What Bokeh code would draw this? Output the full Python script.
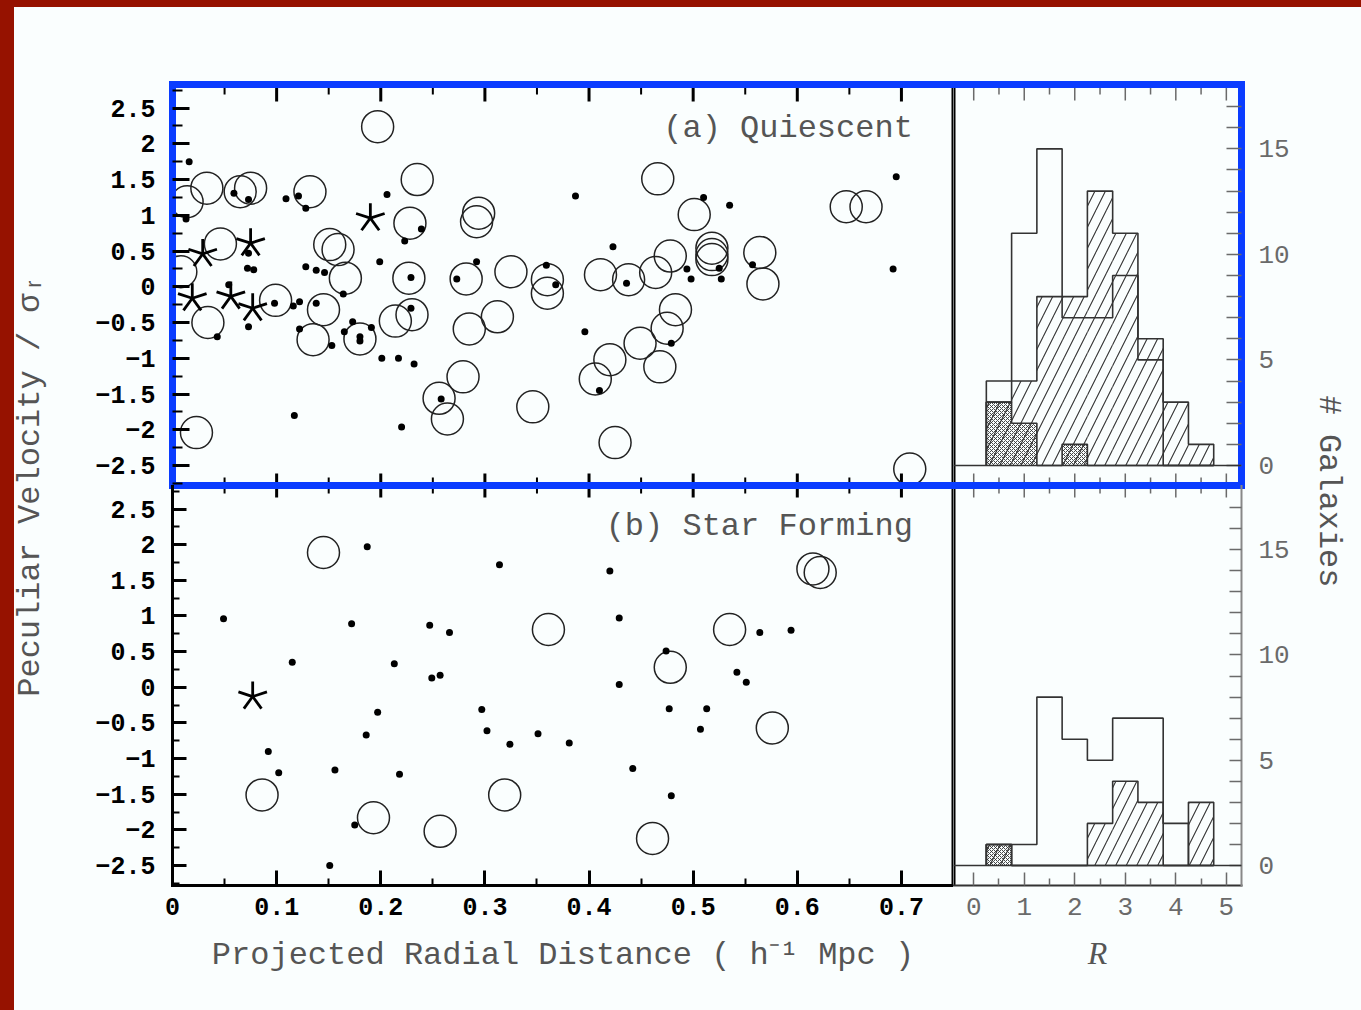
import math
from bokeh.plotting import figure
from bokeh.layouts import row, column
from bokeh.models import Range1d, FixedTicker, LinearAxis, Span, GlobalInlineStyleSheet
from bokeh.core.properties import value
from bokeh.embed import file_html
from bokeh.resources import INLINE

# ---------------- (a) Quiescent ----------------
qa_circle_x = [0.197, 0.033, 0.014, 0.065, 0.075, 0.132, 0.235, 0.228, 0.294, 0.292,
               0.046, 0.151, 0.159, 0.008, 0.166, 0.227, 0.282, 0.325, 0.360, 0.360,
               0.034, 0.099, 0.145, 0.135, 0.180, 0.214, 0.230, 0.285, 0.312, 0.279,
               0.256, 0.264, 0.346, 0.023, 0.466, 0.501, 0.647, 0.666, 0.411, 0.438,
               0.464, 0.478, 0.518, 0.518, 0.518, 0.564, 0.567, 0.483, 0.475, 0.449,
               0.420, 0.468, 0.406, 0.425, 0.708]
qa_circle_y = [2.24, 1.38, 1.19, 1.33, 1.38, 1.33, 1.50, 0.89, 1.03, 0.91,
               0.60, 0.59, 0.52, 0.21, 0.12, 0.12, 0.11, 0.21, 0.10, -0.09,
               -0.50, -0.19, -0.32, -0.74, -0.73, -0.48, -0.39, -0.59, -0.42, -1.26,
               -1.56, -1.85, -1.68, -2.04, 1.51, 1.01, 1.12, 1.12, 0.17, 0.10,
               0.20, 0.43, 0.54, 0.45, 0.38, 0.48, 0.04, -0.32, -0.58, -0.79,
               -1.02, -1.12, -1.29, -2.18, -2.55]
qa_dot_x = [0.016, 0.013, 0.059, 0.073, 0.109, 0.121, 0.128, 0.206, 0.239, 0.223,
            0.073, 0.072, 0.078, 0.128, 0.138, 0.146, 0.199, 0.229, 0.273, 0.292,
            0.359, 0.054, 0.073, 0.043, 0.098, 0.122, 0.116, 0.138, 0.122, 0.153,
            0.173, 0.191, 0.165, 0.180, 0.180, 0.229, 0.164, 0.201, 0.217, 0.232,
            0.258, 0.117, 0.220, 0.368, 0.387, 0.510, 0.535, 0.695, 0.692, 0.423,
            0.436, 0.494, 0.498, 0.527, 0.525, 0.557, 0.479, 0.410, 0.396]
qa_dot_y = [1.75, 0.95, 1.31, 1.22, 1.23, 1.27, 1.10, 1.29, 0.81, 0.64,
            0.47, 0.26, 0.24, 0.28, 0.23, 0.20, 0.35, 0.13, 0.11, 0.35,
            0.30, 0.03, -0.56, -0.70, -0.23, -0.21, -0.27, -0.23, -0.59, -0.82,
            -0.49, -0.57, -0.63, -0.70, -0.76, -0.30, -0.10, -1.00, -1.00, -1.08,
            -1.57, -1.80, -1.96, 0.03, 1.27, 1.25, 1.14, 1.54, 0.25, 0.56,
            0.05, 0.25, 0.11, 0.11, 0.26, 0.31, -0.79, -1.45, -0.63]
qa_star_x = [0.019, 0.056, 0.077, 0.029, 0.075, 0.190]
qa_star_y = [-0.16, -0.135, -0.30, 0.46, 0.61, 0.96]

# ---------------- (b) Star Forming ----------------
sf_circle_x = [0.145, 0.361, 0.086, 0.193, 0.257, 0.319, 0.615, 0.622, 0.535, 0.478, 0.576, 0.461]
sf_circle_y = [1.89, 0.81, -1.51, -1.83, -2.02, -1.51, 1.66, 1.61, 0.81, 0.28, -0.57, -2.12]
sf_dot_x = [0.187, 0.314, 0.049, 0.172, 0.247, 0.266, 0.115, 0.213, 0.249, 0.257,
            0.092, 0.102, 0.197, 0.186, 0.156, 0.218, 0.175, 0.151, 0.297, 0.302,
            0.324, 0.351, 0.420, 0.429, 0.564, 0.594, 0.474, 0.542, 0.551, 0.429,
            0.477, 0.513, 0.507, 0.381, 0.442, 0.479]
sf_dot_y = [1.97, 1.72, 0.96, 0.89, 0.87, 0.77, 0.35, 0.33, 0.13, 0.17,
            -0.90, -1.20, -0.35, -0.67, -1.16, -1.22, -1.93, -2.50, -0.31, -0.61,
            -0.80, -0.65, 1.63, 0.97, 0.77, 0.80, 0.51, 0.21, 0.07, 0.04,
            -0.30, -0.30, -0.59, -0.78, -1.14, -1.52]
sf_star_x = [0.077]
sf_star_y = [-0.13]

# ---------------- histograms of R ----------------
r_bin_edges = [0.25, 0.75, 1.25, 1.75, 2.25, 2.75, 3.25, 3.75, 4.25, 4.75]
qa_hist_open = [4, 11, 15, 7, 7, 9, 5, 0, 0]
qa_hist_hatched = [3, 4, 8, 8, 13, 11, 6, 3, 1]
qa_hist_cross = [3, 2, 0, 1, 0, 0, 0, 0, 0]
sf_hist_open = [1, 1, 8, 6, 5, 7, 7, 2, 0]
sf_hist_hatched = [1, 0, 0, 0, 2, 4, 3, 0, 3]
sf_hist_cross = [1, 0, 0, 0, 0, 0, 0, 0, 0]

# ---------------- ticks ----------------
dist_ticks = [0, 0.1, 0.2, 0.3, 0.4, 0.5, 0.6, 0.7]
dist_labels = ["0", "0.1", "0.2", "0.3", "0.4", "0.5", "0.6", "0.7"]
dist_minor = [0.05, 0.15, 0.25, 0.35, 0.45, 0.55, 0.65]
vel_ticks = [-2.5, -2, -1.5, -1, -0.5, 0, 0.5, 1, 1.5, 2, 2.5]
vel_labels = ["\u22122.5", "\u22122", "\u22121.5", "\u22121", "\u22120.5", "0",
              "0.5", "1", "1.5", "2", "2.5"]
vel_minor = [-2.75, -2.25, -1.75, -1.25, -0.75, -0.25, 0.25, 0.75, 1.25, 1.75, 2.25, 2.75]
r_ticks = [0, 1, 2, 3, 4, 5]
r_labels = ["0", "1", "2", "3", "4", "5"]
r_minor = [0.5, 1.5, 2.5, 3.5, 4.5]
n_ticks = [0, 5, 10, 15]
n_labels = ["0", "5", "10", "15"]
n_minor = [1, 2, 3, 4, 6, 7, 8, 9, 11, 12, 13, 14, 16, 17]

BG = "#fafefe"
BLUE = "#0a3cff"
INK = "#000000"
GREY = "#555555"
HGREY = "#6a6a6a"
MONO = "Liberation Mono"


def base_fig(w, h, xr, yr, left, right, top, bottom):
    p = figure(width=w, height=h, x_range=xr, y_range=yr, output_backend="svg",
               toolbar_location=None, x_axis_location=None, y_axis_location=None,
               min_border_left=left, min_border_right=right,
               min_border_top=top, min_border_bottom=bottom,
               background_fill_color=BG, border_fill_color=BG, outline_line_color=None)
    p.xgrid.visible = False
    p.ygrid.visible = False
    return p


def line_axis(p, side, color, width):
    """Axis that only draws its line (no ticks, no labels)."""
    ax = LinearAxis(ticker=FixedTicker(ticks=[], minor_ticks=[]))
    ax.axis_line_color = color
    ax.axis_line_width = width
    ax.axis_line_cap = "square"
    ax.major_tick_line_color = None
    ax.minor_tick_line_color = None
    ax.major_label_standoff = 0
    p.add_layout(ax, side)
    return ax


def edge_ticks(p, side, pos, length, width, color):
    """Inward ticks along the top or bottom edge of a frame."""
    n = len(pos)
    if side == "above":
        ys, ang = [p.y_range.end] * n, -math.pi / 2
    else:
        ys, ang = [p.y_range.start] * n, math.pi / 2
    p.ray(x=pos, y=ys, length=length, length_units="screen", angle=ang,
          line_color=color, line_width=width)


def label_axis(p, side, ticks, minor, labels, line_color, line_width, tick_color, tick_w,
               minor_w, maj_in, min_in, label_size, label_color, label_style, standoff,
               axis_label=None, axis_label_font=MONO, axis_label_style="normal",
               axis_label_standoff=0):
    ax = LinearAxis(ticker=FixedTicker(ticks=ticks, minor_ticks=minor))
    ax.axis_line_color = line_color
    ax.axis_line_width = line_width
    ax.axis_line_cap = "square"
    ax.major_tick_in = maj_in
    ax.major_tick_out = 0
    ax.minor_tick_in = min_in
    ax.minor_tick_out = 0
    ax.major_tick_line_color = tick_color
    ax.minor_tick_line_color = tick_color
    ax.major_tick_line_width = tick_w
    ax.minor_tick_line_width = minor_w
    ax.major_label_overrides = dict(zip(ticks, labels))
    ax.major_label_text_font = MONO
    ax.major_label_text_font_size = label_size
    ax.major_label_text_color = label_color
    ax.major_label_text_font_style = label_style
    ax.major_label_standoff = standoff
    if axis_label is not None:
        ax.axis_label = axis_label
        ax.axis_label_text_font = axis_label_font
        ax.axis_label_text_font_size = "32px"
        ax.axis_label_text_color = GREY
        ax.axis_label_text_font_style = axis_label_style
        ax.axis_label_standoff = axis_label_standoff
    p.add_layout(ax, side)
    return ax


def draw_scatter(p, cx, cy, dx, dy, sx, sy):
    p.scatter(cx, cy, marker="circle", size=32, fill_color=None,
              line_color="#222222", line_width=1.5)
    p.scatter(dx, dy, marker="circle", size=7, fill_color=INK, line_color=None)
    for ang in (90, 162, 234, 306, 18):
        p.ray(x=sx, y=sy, length=15, length_units="screen", angle=math.radians(ang),
              line_color=INK, line_width=2.8)


def draw_hist(p, open_c, hatch_c, cross_c):
    left = r_bin_edges[:-1]
    right = r_bin_edges[1:]
    p.quad(left=left, right=right, bottom=0, top=hatch_c, fill_color=None, line_color=None,
           hatch_pattern="/", hatch_scale=21, hatch_weight=1.1, hatch_color="#333333")
    p.quad(left=left, right=right, bottom=0, top=cross_c, fill_color=None, line_color=None,
           hatch_pattern="x", hatch_scale=4, hatch_weight=0.9, hatch_color="#333333")
    xs = [r_bin_edges[0]] + r_bin_edges
    for counts in (open_c, hatch_c, cross_c):
        p.step(x=xs, y=[0] + counts + [0], mode="after", line_color="#333333", line_width=1.6)
    p.add_layout(Span(location=0, dimension="width", line_color="#333333", line_width=1.6))


def separator(p, loc):
    s = Span(location=loc, dimension="height", line_color=INK, line_width=4)
    s.level = "underlay"
    p.add_layout(s)


SCX = (0, 0.75)
SCY = (-2.78, 2.83)
HX = (-0.4, 5.3)
HY = (-0.95, 18.05)

# ---- top scatter (a) ----
fa = base_fig(893, 485, Range1d(*SCX), Range1d(*SCY), 112, 0, 84, 0)
line_axis(fa, "above", BLUE, 7)
line_axis(fa, "below", BLUE, 7)
edge_ticks(fa, "above", dist_ticks, 17, 3, INK)
edge_ticks(fa, "above", dist_minor, 10, 2, INK)
edge_ticks(fa, "below", dist_ticks, 12, 3, INK)
edge_ticks(fa, "below", dist_minor, 8, 2, INK)
label_axis(fa, "left", vel_ticks, vel_minor, vel_labels, BLUE, 7, INK, 3, 2, 17, 10,
           "25px", INK, "bold", 17)
separator(fa, SCX[1])
draw_scatter(fa, qa_circle_x, qa_circle_y, qa_dot_x, qa_dot_y, qa_star_x, qa_star_y)
fa.text(x=[0.711], y=[2.21], text=["(a) Quiescent"], text_align="right",
        text_baseline="alphabetic", text_font=value(MONO), text_font_size="32px",
        text_color=GREY)

# ---- top histogram ----
ha = base_fig(347, 485, Range1d(*HX), Range1d(*HY), 0, 59, 84, 0)
line_axis(ha, "above", BLUE, 7)
line_axis(ha, "below", BLUE, 7)
edge_ticks(ha, "above", r_ticks, 16, 1.5, HGREY)
edge_ticks(ha, "above", r_minor, 10, 1.5, HGREY)
edge_ticks(ha, "below", r_ticks, 12, 1.5, HGREY)
edge_ticks(ha, "below", r_minor, 8, 1.5, HGREY)
label_axis(ha, "right", n_ticks, n_minor, n_labels, BLUE, 7, HGREY, 1.5, 1.5, 15, 15,
           "26px", HGREY, "normal", 17)
separator(ha, HX[0])
draw_hist(ha, qa_hist_open, qa_hist_hatched, qa_hist_cross)

# ---- bottom scatter (b) ----
fb = base_fig(893, 515, Range1d(*SCX), Range1d(*SCY), 112, 0, 0, 115)
line_axis(fb, "above", BLUE, 7)
edge_ticks(fb, "above", dist_ticks, 12, 3, INK)
edge_ticks(fb, "above", dist_minor, 8, 2, INK)
label_axis(fb, "below", dist_ticks, dist_minor, dist_labels, INK, 3, INK, 3, 2, 15, 7,
           "25px", INK, "bold", 12,
           axis_label="Projected Radial Distance ( h\u207b\u00b9 Mpc )", axis_label_standoff=19)
label_axis(fb, "left", vel_ticks, vel_minor, vel_labels, INK, 3, INK, 3, 2, 14, 7,
           "25px", INK, "bold", 17)
separator(fb, SCX[1])
draw_scatter(fb, sf_circle_x, sf_circle_y, sf_dot_x, sf_dot_y, sf_star_x, sf_star_y)
fb.text(x=[0.711], y=[2.25], text=["(b) Star Forming"], text_align="right",
        text_baseline="alphabetic", text_font=value(MONO), text_font_size="32px",
        text_color=GREY)

# ---- bottom histogram ----
hb = base_fig(347, 515, Range1d(*HX), Range1d(*HY), 0, 59, 0, 115)
line_axis(hb, "above", BLUE, 7)
edge_ticks(hb, "above", r_ticks, 12, 1.5, HGREY)
edge_ticks(hb, "above", r_minor, 8, 1.5, HGREY)
label_axis(hb, "below", r_ticks, r_minor, r_labels, "#333333", 2, HGREY, 1.5, 1.5, 13, 7,
           "26px", HGREY, "normal", 12,
           axis_label="R", axis_label_font="Liberation Serif", axis_label_style="italic",
           axis_label_standoff=17)
label_axis(hb, "right", n_ticks, n_minor, n_labels, "#888888", 2, HGREY, 1.5, 1.5, 12, 12,
           "26px", HGREY, "normal", 17)
separator(hb, HX[0])
draw_hist(hb, sf_hist_open, sf_hist_hatched, sf_hist_cross)


# ---- shared axis titles ----
def label_fig(w, text, y, angle):
    p = figure(width=w, height=1000, x_range=Range1d(0, 1), y_range=Range1d(0, 1),
               output_backend="svg", toolbar_location=None, x_axis_location=None,
               y_axis_location=None, min_border=0, outline_line_color=None,
               background_fill_color=BG, border_fill_color=BG)
    p.xgrid.visible = False
    p.ygrid.visible = False
    p.text(x=[0.5], y=[y], text=[text], angle=angle, text_align="center",
           text_baseline="middle", text_font=value(MONO), text_font_size="32px",
           text_color=GREY)
    return p


ylab = label_fig(60, "Peculiar Velocity / \u03c3\u1d63", 0.515, math.pi / 2)
rlab = label_fig(56, "# Galaxies", 0.509, -math.pi / 2)

page_css = GlobalInlineStyleSheet(css="""
body { background: #fafefe; }
body::before { content: ""; position: fixed; left: 0; top: 0; width: 100%; height: 7px;
  background: #961200; z-index: 10; pointer-events: none; }
body::after { content: ""; position: fixed; left: 0; top: 0; width: 14px; height: 100%;
  background: #961200; z-index: 10; pointer-events: none; }
""")

layout = row(ylab, column(row(fa, ha), row(fb, hb)), rlab)
layout.stylesheets = [page_css]

open("out.html", "w").write(file_html(layout, INLINE))
